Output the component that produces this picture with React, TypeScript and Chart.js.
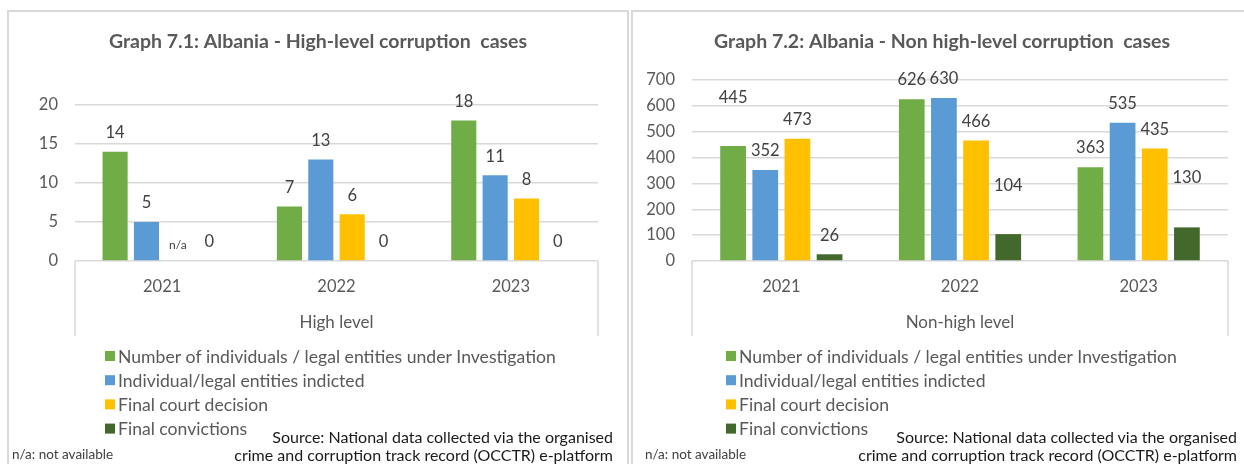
import React, { useEffect, useRef } from "react";
import { Chart, registerables } from "chart.js";

Chart.register(...registerables);

// ---------- data ----------
const years = ["2021", "2022", "2023"];
const seriesNames = [
  "Number of individuals / legal entities under Investigation",
  "Individual/legal entities indicted",
  "Final court decision",
  "Final convictions",
];
const highInvestigation = [14, 7, 18];
const highIndicted = [5, 13, 11];
const highCourtDecision: (number | null)[] = [null, 6, 8]; // 2021: n/a
const highConvictions = [0, 0, 0];

const nonHighInvestigation = [445, 626, 363];
const nonHighIndicted = [352, 630, 535];
const nonHighCourtDecision = [473, 466, 435];
const nonHighConvictions = [26, 104, 130];

const highTicks = [0, 5, 10, 15, 20];
const nonHighTicks = [0, 100, 200, 300, 400, 500, 600, 700];

// ---------- styles ----------
const COLORS = ["#70ad47", "#5b9bd5", "#ffc000", "#43682b"];
const FONT = "Lato, 'Open Sans', sans-serif";
const TEXT = "#595959";
const GRID = "#d9d9d9";
const LABEL_GAP = 19;

type PanelCfg = {
  title: string;
  axisTitle: string;
  series: (number | null)[][];
  ticks: number[];
  canvasLeft: number;
  canvasTop: number;
  width: number;
  height: number;
  yAxisWidth: number;
  padRight: number;
  padTop: number;
  titleX: number;
  legendX: number;
  // extra lift (px) of some data labels, as placed manually in the original
  labelLift: Record<string, number>;
};

function makeChart(canvas: HTMLCanvasElement, cfg: PanelCfg) {
  const tickMin = cfg.ticks[0];
  const tickMax = cfg.ticks[cfg.ticks.length - 1];
  const step = cfg.ticks[1] - cfg.ticks[0];
  const X_AXIS_H = 75;

  const valueLabels = {
    id: "valueLabels",
    afterDatasetsDraw(chart: any) {
      const ctx = chart.ctx;
      const yScale = chart.scales.y;
      ctx.save();
      ctx.textAlign = "center";
      ctx.textBaseline = "middle";
      chart.data.datasets.forEach((ds: any, di: number) => {
        const meta = chart.getDatasetMeta(di);
        meta.data.forEach((el: any, i: number) => {
          const v = ds.data[i];
          if (v === null || v === undefined) {
            ctx.font = `12px ${FONT}`;
            ctx.fillStyle = "#404040";
            ctx.fillText("n/a", el.x, yScale.getPixelForValue(0) - 16);
          } else {
            const lift = cfg.labelLift[`${di}-${i}`] || 0;
            ctx.font = `16.5px ${FONT}`;
            ctx.fillStyle = "#404040";
            ctx.fillText(String(v), el.x, el.y - LABEL_GAP - lift);
          }
        });
      });
      ctx.restore();
    },
  };

  const decorations = {
    id: "decorations",
    afterDraw(chart: any) {
      const ctx = chart.ctx;
      const area = chart.chartArea;
      const xs = chart.scales.x;
      ctx.save();

      // chart title
      ctx.font = `bold 19.5px ${FONT}`;
      ctx.fillStyle = TEXT;
      ctx.textAlign = "center";
      ctx.textBaseline = "middle";
      ctx.fillText(cfg.title, cfg.titleX, 30);

      // category box sides
      ctx.strokeStyle = GRID;
      ctx.lineWidth = 1.5;
      ctx.beginPath();
      ctx.moveTo(area.left, area.bottom);
      ctx.lineTo(area.left, xs.bottom);
      ctx.moveTo(area.right, area.bottom);
      ctx.lineTo(area.right, xs.bottom);
      ctx.stroke();

      // legend, one item per row
      ctx.font = `17.6px ${FONT}`;
      ctx.textBaseline = "middle";
      ctx.textAlign = "left";
      chart.data.datasets.forEach((ds: any, i: number) => {
        const cy = xs.bottom + 20 + i * 24.2;
        ctx.fillStyle = ds.backgroundColor;
        ctx.fillRect(cfg.legendX, cy - 5, 10, 10);
        ctx.fillStyle = TEXT;
        ctx.fillText(ds.label, cfg.legendX + 13, cy + 1);
      });
      ctx.restore();
    },
  };

  return new Chart(canvas, {
    type: "bar",
    data: {
      labels: years,
      datasets: cfg.series.map((data, i) => ({
        label: seriesNames[i],
        data,
        backgroundColor: COLORS[i],
        borderWidth: 0,
        categoryPercentage: 0.72,
        barPercentage: 0.8,
      })),
    },
    options: {
      responsive: false,
      animation: false,
      events: [],
      layout: {
        padding: { left: 0, right: cfg.padRight, top: cfg.padTop, bottom: 128 },
      },
      plugins: {
        legend: { display: false },
        tooltip: { enabled: false },
        title: { display: false },
      },
      scales: {
        x: {
          grid: { display: false },
          border: { display: false },
          ticks: {
            color: TEXT,
            font: { family: FONT, size: 16.5 },
            padding: 8,
          },
          title: {
            display: true,
            text: cfg.axisTitle,
            color: TEXT,
            font: { family: FONT, size: 17 },
            padding: { top: 0, bottom: 3 },
          },
          afterFit(scale: any) {
            scale.height = X_AXIS_H;
          },
        },
        y: {
          min: tickMin,
          max: tickMax,
          grid: { color: GRID, lineWidth: 1.5, drawTicks: false },
          border: { display: false },
          ticks: {
            stepSize: step,
            color: TEXT,
            font: { family: FONT, size: 16.5 },
            padding: 17,
          },
          afterFit(scale: any) {
            scale.width = cfg.yAxisWidth;
          },
        },
      },
    } as any,
    plugins: [valueLabels, decorations],
  });
}

function Panel({ cfg }: { cfg: PanelCfg }) {
  const ref = useRef<HTMLCanvasElement>(null);
  useEffect(() => {
    if (!ref.current) return;
    const chart = makeChart(ref.current, cfg);
    return () => chart.destroy();
  }, []);
  return (
    <canvas
      ref={ref}
      width={cfg.width}
      height={cfg.height}
      style={{ position: "absolute", left: cfg.canvasLeft, top: cfg.canvasTop }}
    />
  );
}

const leftCfg: PanelCfg = {
  title: "Graph 7.1: Albania - High-level corruption  cases",
  axisTitle: "High level",
  series: [highInvestigation, highIndicted, highCourtDecision, highConvictions],
  ticks: highTicks,
  canvasLeft: 9,
  canvasTop: 12,
  width: 618,
  height: 452,
  yAxisWidth: 66,
  padRight: 29,
  padTop: 93,
  titleX: 309,
  legendX: 96,
  labelLift: {},
};

const rightCfg: PanelCfg = {
  title: "Graph 7.2: Albania - Non high-level corruption  cases",
  axisTitle: "Non-high level",
  series: [nonHighInvestigation, nonHighIndicted, nonHighCourtDecision, nonHighConvictions],
  ticks: nonHighTicks,
  canvasLeft: 633,
  canvasTop: 12,
  width: 611,
  height: 452,
  yAxisWidth: 59,
  padRight: 16,
  padTop: 68,
  titleX: 309,
  legendX: 93,
  labelLift: { "0-0": 29, "3-1": 29, "3-2": 31 },
};

const noteStyle: React.CSSProperties = {
  position: "absolute",
  fontFamily: FONT,
  fontSize: 13.5,
  color: "#404040",
  whiteSpace: "nowrap",
};

const sourceStyle: React.CSSProperties = {
  position: "absolute",
  fontFamily: FONT,
  fontSize: 16,
  lineHeight: "18px",
  color: "#1a1a1a",
  textAlign: "right",
  whiteSpace: "nowrap",
};

export default function App() {
  return (
    <div
      style={{
        position: "fixed",
        left: 0,
        top: 0,
        width: 1244,
        height: 464,
        overflow: "hidden",
        background: "#fff",
      }}
    >
      <div
        style={{
          position: "absolute",
          left: 7,
          top: 10,
          width: 622,
          height: 500,
          boxSizing: "border-box",
          border: `2px solid ${GRID}`,
        }}
      />
      <div
        style={{
          position: "absolute",
          left: 631,
          top: 10,
          width: 640,
          height: 500,
          boxSizing: "border-box",
          border: `2px solid ${GRID}`,
        }}
      />
      <Panel cfg={leftCfg} />
      <Panel cfg={rightCfg} />
      <div style={{ ...noteStyle, left: 12, top: 446 }}>n/a: not available</div>
      <div style={{ ...noteStyle, left: 645, top: 446 }}>n/a: not available</div>
      <div style={{ ...sourceStyle, right: 1244 - 613, top: 428 }}>
        Source: National data collected via the organised
        <br />
        crime and corruption track record (OCCTR) e-platform
      </div>
      <div style={{ ...sourceStyle, right: 1244 - 1237, top: 428 }}>
        Source: National data collected via the organised
        <br />
        crime and corruption track record (OCCTR) e-platform
      </div>
    </div>
  );
}
